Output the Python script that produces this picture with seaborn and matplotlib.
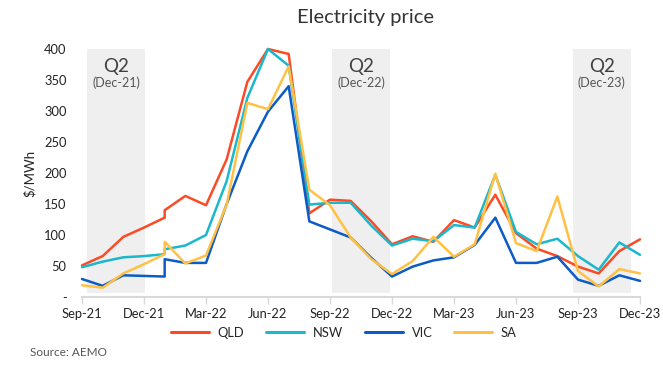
import pandas as pd
import matplotlib
matplotlib.use('Agg')
import matplotlib.pyplot as plt
import seaborn as sns

# month positions (Jan-22 appears twice - the jump in the source data)
month_pos = [0, 1, 2, 3, 4, 4, 5, 6, 7, 8, 9, 10, 11, 12, 13, 14, 15,
             16, 17, 18, 19, 20, 21, 22, 23, 24, 25, 26, 27]

qld = [51, 66, 97, 112, 128, 140, 163, 148, 222, 347, 400, 392, 135, 157, 155,
       122, 85, 98, 89, 124, 112, 165, 103, 78, 66, 49, 38, 74, 93]
nsw = [48, 57, 64, 66, 69, 77, 83, 100, 187, 321, 400, 373, 149, 152, 152,
       115, 83, 94, 90, 116, 112, 197, 105, 85, 94, 66, 44, 88, 68]
vic = [29, 18, 35, 34, 33, 61, 55, 55, 150, 235, 299, 340, 122, 109, 96,
       63, 33, 49, 59, 64, 84, 128, 55, 55, 65, 28, 18, 35, 26]
sa = [19, 15, 38, 53, 69, 89, 54, 67, 149, 313, 303, 372, 173, 148, 96,
      61, 37, 58, 97, 65, 85, 199, 87, 74, 162, 42, 17, 45, 38]

tick_pos = [0, 3, 6, 9, 12, 15, 18, 21, 24, 27]
tick_labels = ['Sep-21', 'Dec-21', 'Mar-22', 'Jun-22', 'Sep-22', 'Dec-22',
               'Mar-23', 'Jun-23', 'Sep-23', 'Dec-23']

q2_spans = [(0.25, 3.05), (12.1, 14.9), (23.75, 26.55)]
q2_labels = ['(Dec-21)', '(Dec-22)', '(Dec-23)']

regions = ['QLD', 'NSW', 'VIC', 'SA']
colors = ['#FA4B26', '#1BB8CC', '#0D5BC6', '#FFC144']

df = pd.DataFrame({'month': month_pos * 4,
                   'price': qld + nsw + vic + sa,
                   'region': [r for r in regions for _ in month_pos]})

sns.set_theme(style='white')
plt.rcParams['font.family'] = ['Lato', 'DejaVu Sans']

fig = plt.figure(figsize=(6.63, 3.67), dpi=100)
ax = fig.add_axes([82 / 663, 1 - 297 / 367, 558 / 663, 248 / 367])

for (a, b), lab in zip(q2_spans, q2_labels):
    ax.axvspan(a, b, ymin=0.015, ymax=1.0, color='#EFEFEF', lw=0, zorder=0)
    ax.text((a + b) / 2, 371, 'Q2', ha='center', va='center', fontsize=13.5, color='#404040')
    ax.text((a + b) / 2, 345, lab, ha='center', va='center', fontsize=9, color='#555555')

sns.lineplot(data=df, x='month', y='price', hue='region', hue_order=regions,
             palette=colors, estimator=None, sort=False, units='region',
             linewidth=1.8, ax=ax, legend=False, clip_on=False)

ax.set_xlim(0, 27)
ax.set_ylim(0, 400)
ax.set_xticks(tick_pos)
ax.set_xticklabels(tick_labels)
ax.set_yticks(range(0, 401, 50))
ax.set_yticklabels(['-'] + [str(v) for v in range(50, 401, 50)])
ax.set_xlabel('')
ax.set_ylabel('$/MWh', fontsize=9.5, color='#222222', labelpad=6)

for s in ['top', 'right', 'left']:
    ax.spines[s].set_visible(False)
ax.spines['bottom'].set_color('#D9D9D9')
ax.spines['bottom'].set_linewidth(1.5)
ax.tick_params(axis='x', length=5, width=1, color='#D9D9D9', labelsize=9.3,
               labelcolor='#222222', pad=3, bottom=True)
ax.tick_params(axis='y', length=0, labelsize=9.3, labelcolor='#222222', pad=11)
ax.grid(False)

handles = [plt.Line2D([], [], color=c, lw=2.2) for c in colors]
fig.legend(handles, regions, loc='center', bbox_to_anchor=(344 / 663, 1 - 333 / 367),
           ncol=4, frameon=False, fontsize=9.3, handlelength=2.9, handletextpad=0.7,
           columnspacing=1.7)

fig.text(0.552, 1 - 17 / 367, 'Electricity price', ha='center', va='center',
         fontsize=14.5, color='#333333')
fig.text(30 / 663, 1 - 353 / 367, 'Source: AEMO', ha='left', va='center',
         fontsize=8.5, color='#555555')

fig.savefig('out.png', dpi=100)
